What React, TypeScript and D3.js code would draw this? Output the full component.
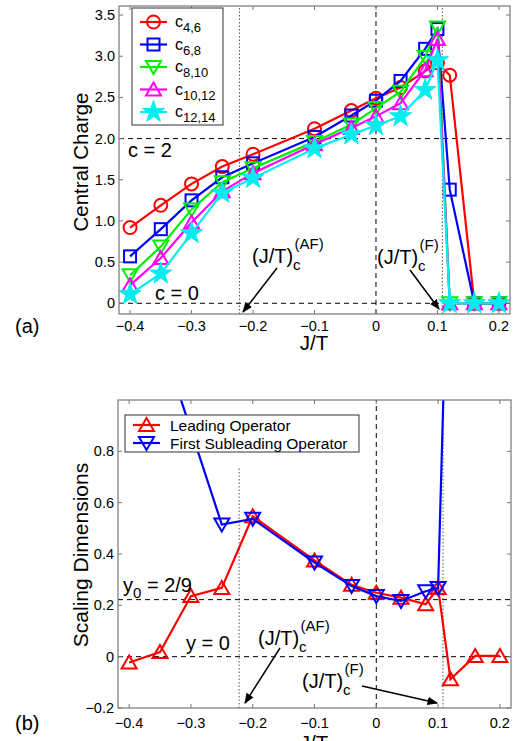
import React, { useEffect, useRef } from "react";
import * as d3 from "d3";

// J/T values (top panel)
const xTop = [-0.4, -0.35, -0.3, -0.25, -0.2, -0.1, -0.04, 0, 0.04, 0.08, 0.1, 0.12, 0.16, 0.2];
const c46 = [0.92, 1.19, 1.45, 1.66, 1.81, 2.12, 2.34, 2.49, 2.62, 2.82, 2.92, 2.77, 0, 0];
const c68 = [0.57, 0.9, 1.25, 1.53, 1.7, 2.02, 2.28, 2.46, 2.7, 3.09, 3.33, 1.38, 0, 0];
const c810 = [0.34, 0.69, 1.14, 1.47, 1.64, 1.96, 2.17, 2.37, 2.57, 2.99, 3.35, 0, 0, 0];
const c1012 = [0.22, 0.55, 0.98, 1.36, 1.58, 1.93, 2.13, 2.27, 2.43, 2.83, 3.21, 0, 0, 0];
const c1214 = [0.11, 0.36, 0.85, 1.34, 1.52, 1.88, 2.05, 2.16, 2.27, 2.59, 2.95, 0, 0, 0];

// bottom panel
const xLead = [-0.4, -0.35, -0.3, -0.25, -0.2, -0.1, -0.04, 0, 0.04, 0.08, 0.1, 0.12, 0.16, 0.2];
const leading = [-0.023, 0.018, 0.236, 0.268, 0.547, 0.375, 0.28, 0.249, 0.23, 0.204, 0.268, -0.088, 0.003, 0.003];
const xSub = [-0.35, -0.25, -0.2, -0.1, -0.04, 0, 0.04, 0.08, 0.1, 0.12];
const subleading = [1.25, 0.515, 0.537, 0.367, 0.275, 0.236, 0.217, 0.255, 0.268, 2.0];

const xTicks = [-0.4, -0.3, -0.2, -0.1, 0, 0.1, 0.2];
const yTicksTop = [0, 0.5, 1, 1.5, 2, 2.5, 3, 3.5];
const yTicksBot = [-0.2, 0, 0.2, 0.4, 0.6, 0.8];

const topSeries = [
  { name: "c", sub: "4,6", vals: c46, color: "#ff0000", marker: "circle" },
  { name: "c", sub: "6,8", vals: c68, color: "#0000ff", marker: "square" },
  { name: "c", sub: "8,10", vals: c810, color: "#00ee00", marker: "down" },
  { name: "c", sub: "10,12", vals: c1012, color: "#ff00ff", marker: "up" },
  { name: "c", sub: "12,14", vals: c1214, color: "#00eeee", marker: "star" },
];

const FONT = "Liberation Sans, Arial, Helvetica, sans-serif";
const fmt = (d: number) => (d === 0 ? "0" : d3.format(".1f")(d).replace("-", "\u2212"));

function drawMarker(g: any, kind: string, x: number, y: number, color: string) {
  if (kind === "circle") {
    g.append("circle").attr("cx", x).attr("cy", y).attr("r", 6.5)
      .attr("fill", "none").attr("stroke", color).attr("stroke-width", 2);
  } else if (kind === "square") {
    g.append("rect").attr("x", x - 6).attr("y", y - 6).attr("width", 12).attr("height", 12)
      .attr("fill", "none").attr("stroke", color).attr("stroke-width", 2);
  } else if (kind === "up" || kind === "down") {
    const s = kind === "up" ? 1 : -1;
    const pts = [[x, y - 7 * s], [x - 7.5, y + 6 * s], [x + 7.5, y + 6 * s]];
    g.append("path").attr("d", "M" + pts.map((p) => p.join(",")).join("L") + "Z")
      .attr("fill", "none").attr("stroke", color).attr("stroke-width", 2);
  } else if (kind === "star") {
    g.append("path").attr("d", d3.symbol(d3.symbolStar, 150)())
      .attr("transform", `translate(${x},${y})`)
      .attr("fill", color).attr("stroke", color).attr("stroke-width", 1);
  }
}

function frame(svg: any, x: any, y: any, yTicks: number[], labelDy: number) {
  const [x0, x1] = x.range();
  const [y0, y1] = y.range();
  const g = svg.append("g");
  g.append("rect").attr("x", x0).attr("y", y1).attr("width", x1 - x0).attr("height", y0 - y1)
    .attr("fill", "none").attr("stroke", "#777").attr("stroke-width", 1.2);
  xTicks.forEach((t) => {
    const px = x(t);
    g.append("line").attr("x1", px).attr("x2", px).attr("y1", y0).attr("y2", y0 - 4).attr("stroke", "#777");
    g.append("line").attr("x1", px).attr("x2", px).attr("y1", y1).attr("y2", y1 + 4).attr("stroke", "#777");
    g.append("text").attr("x", px).attr("y", y0 + labelDy).attr("text-anchor", "middle")
      .attr("font-size", 14.5).attr("font-family", FONT).text(fmt(t));
  });
  yTicks.forEach((t) => {
    const py = y(t);
    g.append("line").attr("x1", x0).attr("x2", x0 + 4).attr("y1", py).attr("y2", py).attr("stroke", "#777");
    g.append("line").attr("x1", x1).attr("x2", x1 - 4).attr("y1", py).attr("y2", py).attr("stroke", "#777");
    g.append("text").attr("x", x0 - 4).attr("y", py + 5).attr("text-anchor", "end")
      .attr("font-size", 14.5).attr("font-family", FONT).text(fmt(t));
  });
}

function hline(svg: any, x: any, y: number, dash: string) {
  svg.append("line").attr("x1", x.range()[0]).attr("x2", x.range()[1]).attr("y1", y).attr("y2", y)
    .attr("stroke", "#000").attr("stroke-width", 1).attr("stroke-dasharray", dash);
}
function vline(svg: any, px: number, ya: number, yb: number, dash: string, color = "#000") {
  svg.append("line").attr("x1", px).attr("x2", px).attr("y1", ya).attr("y2", yb)
    .attr("stroke", color).attr("stroke-width", 1).attr("stroke-dasharray", dash);
}

function jtLabel(svg: any, x: number, y: number, sup: string) {
  const t = svg.append("text").attr("x", x).attr("y", y).attr("font-size", 20).attr("font-family", FONT);
  t.append("tspan").text("(J/T)");
  t.append("tspan").attr("font-size", 15).attr("dy", 7).text("c");
  t.append("tspan").attr("font-size", 15).attr("dx", -6).attr("dy", -21).text(sup);
}

function arrow(svg: any, x1: number, y1: number, x2: number, y2: number) {
  svg.append("line").attr("x1", x1).attr("y1", y1).attr("x2", x2).attr("y2", y2)
    .attr("stroke", "#000").attr("stroke-width", 1.5).attr("marker-end", "url(#arrowhead)");
}

export default function App() {
  const ref = useRef<SVGSVGElement>(null);

  useEffect(() => {
    const svg = d3.select(ref.current);
    svg.selectAll("*").remove();

    const defs = svg.append("defs");
    defs.append("marker").attr("id", "arrowhead").attr("viewBox", "0 0 10 10")
      .attr("refX", 9).attr("refY", 5).attr("markerWidth", 7).attr("markerHeight", 7)
      .attr("orient", "auto").append("path").attr("d", "M0,1 L10,5 L0,9 Z").attr("fill", "#000");
    defs.append("clipPath").attr("id", "clipTop").append("rect").attr("x", 119).attr("y", 6).attr("width", 391).attr("height", 308);
    defs.append("clipPath").attr("id", "clipBot").append("rect").attr("x", 118).attr("y", 400).attr("width", 393).attr("height", 308);

    // ---------- panel (a)
    const x = d3.scaleLinear().domain([-0.418, 0.218]).range([119, 510]);
    const y = d3.scaleLinear().domain([-0.13, 3.61]).range([314, 6]);

    hline(svg, x, y(2), "5,4");
    hline(svg, x, y(0), "5,4");
    vline(svg, x(0), 314, 6, "5,4");
    vline(svg, x(-0.222), 314, 6, "1.5,2", "#555");
    vline(svg, x(0.108), 314, 6, "1.5,2", "#555");

    const plotTop = svg.append("g").attr("clip-path", "url(#clipTop)");
    const line = d3.line<number>().x((d, i) => x(xTop[i])).y((d) => y(d));
    topSeries.forEach((s) => {
      plotTop.append("path").datum(s.vals).attr("d", line).attr("fill", "none")
        .attr("stroke", s.color).attr("stroke-width", 2.2);
      s.vals.forEach((v, i) => drawMarker(plotTop, s.marker, x(xTop[i]), y(v), s.color));
    });

    frame(svg, x, y, yTicksTop, 17);

    // legend (a)
    svg.append("rect").attr("x", 132).attr("y", 8).attr("width", 91).attr("height", 117)
      .attr("fill", "#fff").attr("stroke", "#333").attr("stroke-width", 1);
    topSeries.forEach((s, i) => {
      const ly = 22 + i * 22.5;
      svg.append("line").attr("x1", 140).attr("x2", 167).attr("y1", ly).attr("y2", ly)
        .attr("stroke", s.color).attr("stroke-width", 2.2);
      drawMarker(svg, s.marker, 153.5, ly, s.color);
      const t = svg.append("text").attr("x", 175).attr("y", ly + 5).attr("font-size", 16).attr("font-family", FONT);
      t.append("tspan").text(s.name);
      t.append("tspan").attr("font-size", 13).attr("dy", 5).text(s.sub);
    });

    svg.append("text").attr("x", 128).attr("y", 157).attr("font-size", 20).attr("font-family", FONT).text("c = 2");
    svg.append("text").attr("x", 155).attr("y", 300).attr("font-size", 20).attr("font-family", FONT).text("c = 0");
    jtLabel(svg, 252, 263, "(AF)");
    arrow(svg, 277, 268, 243, 312);
    jtLabel(svg, 377, 264, "(F)");
    arrow(svg, 410, 270, 439, 309);

    svg.append("text").attr("transform", "translate(88,162) rotate(-90)").attr("text-anchor", "middle")
      .attr("font-size", 20.5).attr("font-family", FONT).text("Central Charge");
    svg.append("text").attr("x", 314).attr("y", 350).attr("text-anchor", "middle")
      .attr("font-size", 20.5).attr("font-family", FONT).text("J/T");
    svg.append("text").attr("x", 15).attr("y", 333).attr("font-size", 20).attr("font-family", FONT).text("(a)");

    // ---------- panel (b)
    const xb = d3.scaleLinear().domain([-0.418, 0.218]).range([118, 511]);
    const yb = d3.scaleLinear().domain([-0.2, 1.0]).range([708, 400]);

    hline(svg, xb, yb(2 / 9), "5,4");
    hline(svg, xb, yb(0), "5,4");
    vline(svg, xb(0), 708, 400, "5,4");
    vline(svg, xb(-0.222), 708, 468, "1.5,2", "#555");
    vline(svg, xb(0.108), 708, 400, "1.5,2", "#555");

    const plotBot = svg.append("g").attr("clip-path", "url(#clipBot)");
    const lineLead = d3.line<number>().x((d, i) => xb(xLead[i])).y((d) => yb(d));
    const lineSub = d3.line<number>().x((d, i) => xb(xSub[i])).y((d) => yb(d));
    plotBot.append("path").datum(leading).attr("d", lineLead).attr("fill", "none")
      .attr("stroke", "#ff0000").attr("stroke-width", 2.2);
    leading.forEach((v, i) => drawMarker(plotBot, "up", xb(xLead[i]), yb(v), "#ff0000"));
    plotBot.append("path").datum(subleading).attr("d", lineSub).attr("fill", "none")
      .attr("stroke", "#0000ff").attr("stroke-width", 2.2);
    subleading.forEach((v, i) => drawMarker(plotBot, "down", xb(xSub[i]), yb(v), "#0000ff"));

    frame(svg, xb, yb, yTicksBot, 20);

    // legend (b)
    svg.append("rect").attr("x", 125).attr("y", 415).attr("width", 234).attr("height", 37)
      .attr("fill", "#fff").attr("stroke", "#333").attr("stroke-width", 1);
    [["Leading Operator", "#ff0000", "up"], ["First Subleading Operator", "#0000ff", "down"]].forEach((e, i) => {
      const ly = 425 + i * 18;
      svg.append("line").attr("x1", 133).attr("x2", 160).attr("y1", ly).attr("y2", ly)
        .attr("stroke", e[1]).attr("stroke-width", 2.2);
      drawMarker(svg, e[2], 146.5, ly, e[1]);
      svg.append("text").attr("x", 170).attr("y", ly + 5.5).attr("font-size", 15.5).attr("font-family", FONT).text(e[0]);
    });

    const y0t = svg.append("text").attr("x", 123).attr("y", 592).attr("font-size", 20).attr("font-family", FONT);
    y0t.append("tspan").text("y");
    y0t.append("tspan").attr("font-size", 15).attr("dy", 6).text("0");
    y0t.append("tspan").attr("dy", -6).text(" = 2/9");
    svg.append("text").attr("x", 186).attr("y", 650).attr("font-size", 20).attr("font-family", FONT).text("y = 0");
    jtLabel(svg, 258, 645, "(AF)");
    arrow(svg, 280, 648, 245, 703);
    jtLabel(svg, 302, 688, "(F)");
    arrow(svg, 362, 686, 437, 703);

    svg.append("text").attr("transform", "translate(88,555) rotate(-90)").attr("text-anchor", "middle")
      .attr("font-size", 21).attr("font-family", FONT).text("Scaling Dimensions");
    svg.append("text").attr("x", 314).attr("y", 750).attr("text-anchor", "middle")
      .attr("font-size", 20.5).attr("font-family", FONT).text("J/T");
    svg.append("text").attr("x", 15).attr("y", 730).attr("font-size", 20).attr("font-family", FONT).text("(b)");
  }, []);

  return (
    <svg ref={ref} width={517} height={741}
      style={{ position: "absolute", left: 0, top: 0, background: "#fff" }} />
  );
}
